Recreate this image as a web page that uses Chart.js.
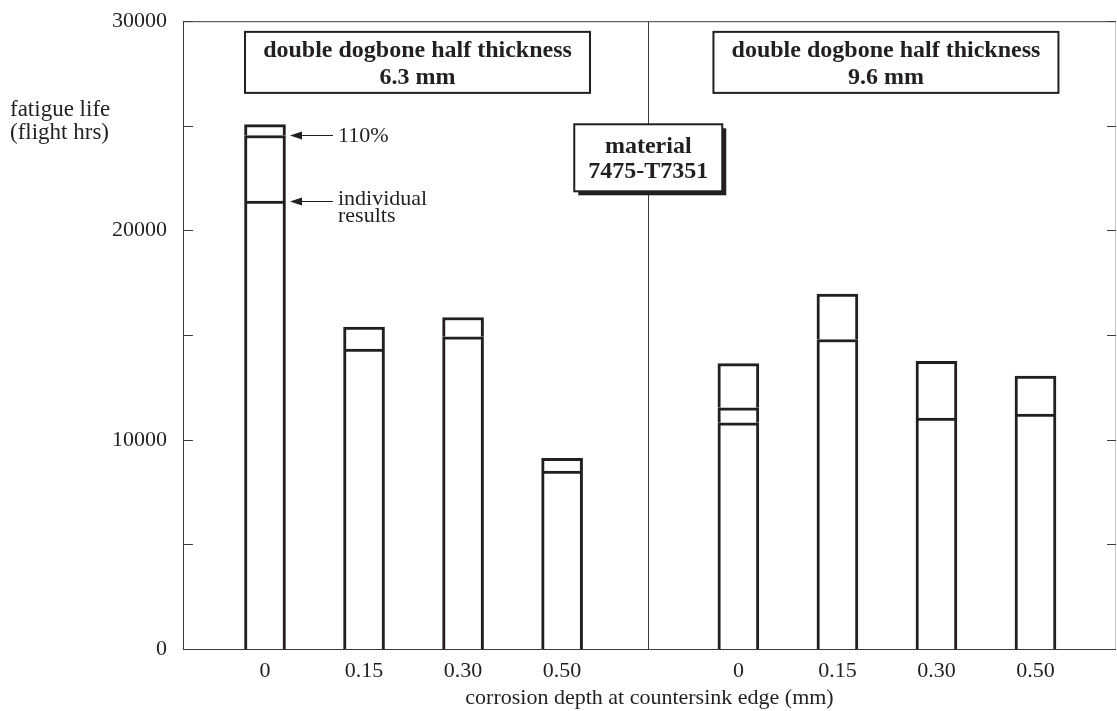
<!DOCTYPE html>
<html>
<head>
<meta charset="utf-8">
<script src="https://cdn.jsdelivr.net/npm/chart.js@4.4.1/dist/chart.umd.min.js"></script>
<style>
  html, body { margin: 0; padding: 0; background: #fff; }
  #wrap { width: 1117px; height: 711px; }
</style>
</head>
<body>
<div id="wrap"><canvas id="c" width="1117" height="711"></canvas></div>
<script>
// ---- data ----
const depthLabels = ['0', '0.15', '0.30', '0.50', '0', '0.15', '0.30', '0.50'];
const xPos = [1, 2, 3, 4, 5.78, 6.78, 7.78, 8.78];          // category positions on the depth axis (two groups)
const groupDivider = 4.87;                                    // separator between the two thickness groups
const lowerResult  = [21400, 14330, 14920, 8500, 10810, 14790, 11030, 11220];
const middleResult = [24540, null, null, null, 11530, null, null, null];
const topResult    = [25060, 15380, 15840, 9110, 13640, 16960, 13750, 13040];
const yTicks = [0, 5000, 10000, 15000, 20000, 25000, 30000];
const groupTitles = [
  ['double dogbone half thickness', '6.3 mm'],
  ['double dogbone half thickness', '9.6 mm']
];
const materialText = ['material', '7475-T7351'];

// ---- build floating segments ----
const levels = xPos.map((_, i) => [lowerResult[i], middleResult[i], topResult[i]].filter(v => v !== null));
const maxLevels = Math.max(...levels.map(l => l.length));
const INK = '#231f20';
const datasets = [];
for (let k = 0; k < maxLevels; k++) {
  const data = [];
  levels.forEach((lv, i) => {
    if (lv.length > k) data.push({ x: xPos[i], y: [k === 0 ? 0 : lv[k - 1], lv[k]] });
  });
  datasets.push({
    data,
    grouped: false,
    backgroundColor: '#ffffff',
    borderColor: INK,
    borderWidth: 3,
    borderSkipped: 'start',
    barThickness: 41
  });
}

const SERIF = '"Liberation Serif", "Times New Roman", serif';

const decor = {
  id: 'decor',
  afterDatasetsDraw(chart) {
    const { ctx, chartArea: ca, scales: { x, y } } = chart;
    ctx.save();
    // frame
    ctx.lineWidth = 1;
    ctx.strokeStyle = '#3a3a3a';
    ctx.beginPath();
    ctx.moveTo(ca.left + 0.5, ca.top + 0.5);
    ctx.lineTo(ca.right - 0.5, ca.top + 0.5);
    ctx.moveTo(ca.left + 0.5, ca.top);
    ctx.lineTo(ca.left + 0.5, ca.bottom + 0.5);
    ctx.lineTo(ca.right, ca.bottom + 0.5);
    ctx.stroke();
    ctx.strokeStyle = '#c4c4c4';
    ctx.beginPath();
    ctx.moveTo(ca.right - 0.5, ca.top);
    ctx.lineTo(ca.right - 0.5, ca.bottom);
    ctx.stroke();
    // inward ticks
    ctx.strokeStyle = '#3a3a3a';
    ctx.beginPath();
    yTicks.forEach(v => {
      const py = Math.round(y.getPixelForValue(v)) + 0.5;
      ctx.moveTo(ca.left, py); ctx.lineTo(ca.left + 10, py);
      ctx.moveTo(ca.right - 9, py); ctx.lineTo(ca.right, py);
    });
    ctx.stroke();
    // group divider
    const dx = Math.round(x.getPixelForValue(groupDivider)) + 0.5;
    ctx.beginPath();
    ctx.moveTo(dx, ca.top); ctx.lineTo(dx, ca.bottom);
    ctx.stroke();

    // group title boxes
    const boxCenters = [2.54, 7.27];
    ctx.textAlign = 'center';
    ctx.textBaseline = 'alphabetic';
    boxCenters.forEach((cv, gi) => {
      const cx = x.getPixelForValue(cv);
      const top = y.getPixelForValue(29490);
      const w = 345, h = 61;
      ctx.fillStyle = '#fff';
      ctx.fillRect(cx - w / 2, top, w, h);
      ctx.lineWidth = 2;
      ctx.strokeStyle = INK;
      ctx.strokeRect(cx - w / 2, top, w, h);
      ctx.fillStyle = INK;
      ctx.font = 'bold 24px ' + SERIF;
      ctx.fillText(groupTitles[gi][0], cx, top + 25);
      ctx.fillText(groupTitles[gi][1], cx, top + 52);
    });

    // material box with shadow
    {
      const cx = x.getPixelForValue(groupDivider);
      const cy = y.getPixelForValue(23473);
      const w = 148, h = 67;
      ctx.fillStyle = INK;
      ctx.fillRect(cx - w / 2 + 4, cy - h / 2 + 4, w, h);
      ctx.fillStyle = '#fff';
      ctx.fillRect(cx - w / 2, cy - h / 2, w, h);
      ctx.lineWidth = 2;
      ctx.strokeStyle = INK;
      ctx.strokeRect(cx - w / 2, cy - h / 2, w, h);
      ctx.fillStyle = INK;
      ctx.font = 'bold 24px ' + SERIF;
      ctx.fillText(materialText[0], cx, cy - 5);
      ctx.fillText(materialText[1], cx, cy + 20);
    }

    // arrows to first bar
    const bx = x.getPixelForValue(xPos[0]);
    const tipX = bx + 25, tailX = bx + 68;
    const drawArrow = (py) => {
      ctx.strokeStyle = INK;
      ctx.lineWidth = 1;
      ctx.beginPath();
      ctx.moveTo(tailX, py); ctx.lineTo(tipX + 8, py);
      ctx.stroke();
      ctx.fillStyle = INK;
      ctx.beginPath();
      ctx.moveTo(tipX, py); ctx.lineTo(tipX + 12, py - 4); ctx.lineTo(tipX + 12, py + 4);
      ctx.closePath(); ctx.fill();
    };
    const a1 = Math.round(y.getPixelForValue(middleResult[0])) + 0.5;
    const a2 = Math.round(y.getPixelForValue(lowerResult[0])) + 0.5;
    drawArrow(a1); drawArrow(a2);
    ctx.font = '22px ' + SERIF;
    ctx.textAlign = 'left';
    ctx.fillStyle = INK;
    ctx.textBaseline = 'middle';
    ctx.fillText('110%', tailX + 5, a1 + 1);
    ctx.textBaseline = 'alphabetic';
    ctx.fillText('individual', tailX + 5, a2 + 3);
    ctx.fillText('results', tailX + 5, a2 + 20);

    // axis titles
    ctx.font = '23px ' + SERIF;
    ctx.fillText('fatigue life', 10, 116);
    ctx.fillText('(flight hrs)', 10, 139);
    ctx.font = '22px ' + SERIF;
    ctx.textAlign = 'center';
    ctx.fillText('corrosion depth at countersink edge (mm)', (ca.left + ca.right) / 2, 704);
    ctx.restore();
  }
};

new Chart(document.getElementById('c'), {
  type: 'bar',
  data: { datasets },
  plugins: [decor],
  options: {
    responsive: false,
    animation: false,
    layout: { padding: { top: 17, right: 1, left: 0, bottom: 0 } },
    plugins: { legend: { display: false }, tooltip: { enabled: false } },
    scales: {
      x: {
        type: 'linear',
        offset: false,
        min: 0.172,
        max: 9.593,
        grid: { display: false, offset: false },
        border: { display: false },
        afterBuildTicks: (s) => { s.ticks = xPos.map(v => ({ value: v })); },
        afterFit: (s) => { s.height = 62; },
        ticks: {
          autoSkip: false,
          maxRotation: 0,
          padding: 1,
          color: INK,
          font: { family: SERIF, size: 22 },
          callback: (v, i) => depthLabels[i]
        }
      },
      y: {
        min: 0,
        max: 30000,
        grid: { display: false },
        border: { display: false },
        afterFit: (s) => { s.width = 183; },
        afterBuildTicks: (s) => { s.ticks = yTicks.map(v => ({ value: v })); },
        ticks: {
          padding: 8,
          color: INK,
          font: { family: SERIF, size: 22 },
          callback: (v) => (v % 10000 === 0 ? String(v) : '')
        }
      }
    }
  }
});
</script>
</body>
</html>
